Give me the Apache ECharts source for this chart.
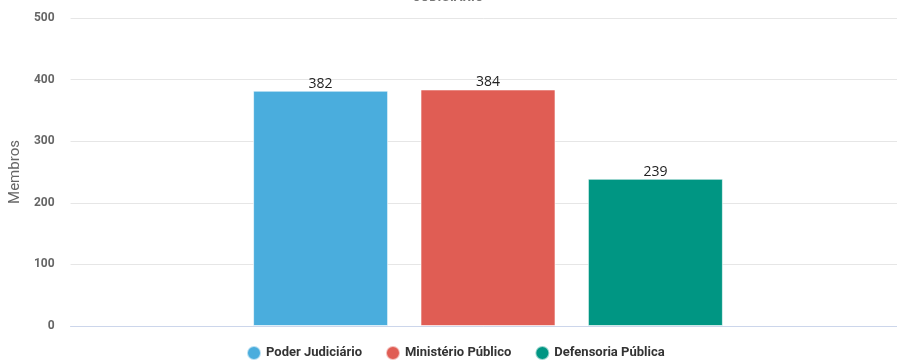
<!DOCTYPE html>
<html>
<head>
<meta charset="utf-8">
<script src="https://cdn.jsdelivr.net/npm/echarts@6/dist/echarts.min.js"></script>
<style>
  html, body { margin: 0; padding: 0; background: #fff; }
  #chart { width: 897px; height: 361px; }
</style>
</head>
<body>
<div id="chart"></div>
<script>
const categories = ['Membros'];
const seriesNames = ['Poder Judiciário', 'Ministério Público', 'Defensoria Pública'];
const seriesValues = [382, 384, 239];
const colors = ['#4aaddd', '#e05d54', '#009683'];
const yTicks = { min: 0, max: 500, interval: 100 };

const chart = echarts.init(document.getElementById('chart'));

const option = {
  animation: false,
  title: {
    text: 'JUDICIÁRIO',
    left: 'center',
    top: -14,
    textStyle: { color: '#777', fontSize: 13, fontWeight: 'bold', fontFamily: 'Roboto, sans-serif' }
  },
  // grid 0: axes and gridlines; grid 1: the bars (plot area slightly offset)
  grid: [
    { left: 68, right: 0, top: 18, bottom: 35 },
    { left: 79, right: 0, top: 18, bottom: 35 }
  ],
  legend: {
    bottom: -5,
    left: 241,
    icon: 'circle',
    itemWidth: 14,
    itemHeight: 14,
    itemGap: 23,
    textStyle: { color: '#333', fontSize: 13, fontWeight: 'bold', fontFamily: 'Roboto, sans-serif' },
    data: seriesNames
  },
  xAxis: [
    {
      type: 'category',
      gridIndex: 0,
      data: categories,
      axisLine: { lineStyle: { color: '#ccd6eb' } },
      axisTick: { show: false },
      axisLabel: { show: false }
    },
    {
      type: 'category',
      gridIndex: 1,
      data: categories,
      show: false
    }
  ],
  yAxis: [
    {
      type: 'value',
      gridIndex: 0,
      min: yTicks.min,
      max: yTicks.max,
      interval: yTicks.interval,
      name: 'Membros',
      nameLocation: 'middle',
      nameGap: 39,
      nameTextStyle: { color: '#666', fontSize: 15, fontFamily: 'Roboto, sans-serif' },
      axisLabel: { color: '#666', fontSize: 12, fontWeight: 'bold', margin: 16, fontFamily: 'Roboto, sans-serif' },
      splitLine: { lineStyle: { color: '#e6e6e6' } },
      axisLine: { show: false },
      axisTick: { show: false }
    },
    {
      type: 'value',
      gridIndex: 1,
      min: yTicks.min,
      max: yTicks.max,
      interval: yTicks.interval,
      show: false
    }
  ],
  series: seriesNames.map((name, i) => ({
    name,
    type: 'bar',
    xAxisIndex: 1,
    yAxisIndex: 1,
    data: [seriesValues[i]],
    barWidth: 135,
    barGap: '24%',
    itemStyle: { color: colors[i], borderColor: 'rgba(255,255,255,0.6)', borderWidth: 1 },
    label: {
      show: true,
      position: 'top',
      distance: 0,
      color: '#222',
      fontSize: 14,
      fontFamily: 'Open Sans, sans-serif'
    }
  }))
};

chart.setOption(option);
</script>
</body>
</html>
